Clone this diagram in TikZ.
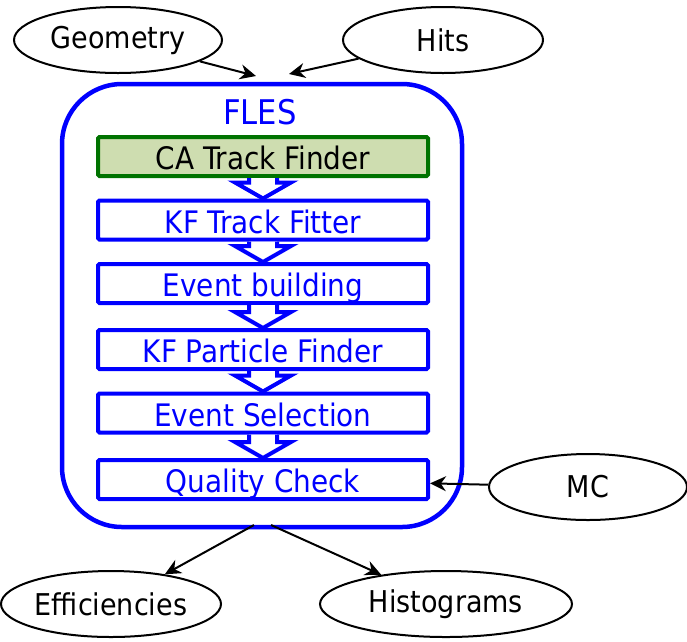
\documentclass[tikz,border=0pt]{standalone}
\usepackage{fontspec}
\setmainfont{DejaVu Sans Condensed}
\usetikzlibrary{shapes.geometric,calc,arrows.meta}
\definecolor{flesblue}{RGB}{0,0,255}
\definecolor{cagreen}{RGB}{0,115,0}
\definecolor{cafill}{RGB}{206,221,176}
\tikzset{
  io/.style={ellipse,draw=black,line width=2pt,minimum width=#1,minimum height=66pt,inner sep=0pt,font=\fontsize{30}{32}\selectfont},
  stage/.style={rectangle,draw=flesblue,line width=4pt,rounded corners=1.5pt,minimum width=330pt,minimum height=39pt,inner sep=0pt,text height=26pt,text depth=0pt,text=flesblue,font=\fontsize{31}{33}\selectfont},
  flow/.style={-{Stealth[length=16pt,width=15pt]},line width=2pt,black},
  hollow/.style={draw=flesblue,line width=4pt,fill=white,line join=miter},
}
\newcommand{\hollowarrow}[2]{%
  \path[hollow] let \p1=(#1.south), \p2=(#2.north) in
    (\x1-14pt,\y1) -- (\x1-14pt,\y2+16pt) -- (\x1-28pt,\y2+16pt) -- (\x1,\y2)
    -- (\x1+28pt,\y2+16pt) -- (\x1+14pt,\y2+16pt) -- (\x1+14pt,\y1);}
\begin{document}
\begin{tikzpicture}[x=1pt,y=-1pt]
\useasboundingbox (0,0) rectangle (687,641);
% outer FLES frame
\node[draw=flesblue,line width=4.5pt,rounded corners=60pt,minimum width=400pt,minimum height=443pt,inner sep=0pt] (fles) at (262,305.5) {};
\node[text=flesblue,font=\fontsize{34}{36}\selectfont] (title) at (260,112) {FLES};
% processing stages
\node[stage,draw=cagreen,fill=cafill,text=black] (ca) at (263,156.5) {CA Track Finder};
\node[stage] (kf) at (263,220) {KF Track Fitter};
\node[stage] (ev) at (263,283.5) {Event building};
\node[stage] (pf) at (263,349.5) {KF Particle Finder};
\node[stage] (sel) at (263,413) {Event Selection};
\node[stage] (qa) at (263,479.5) {Quality Check};
\hollowarrow{ca}{kf}
\hollowarrow{kf}{ev}
\hollowarrow{ev}{pf}
\hollowarrow{pf}{sel}
\hollowarrow{sel}{qa}
% inputs and outputs
\node[io=208pt] (geo) at (118,40) {Geometry};
\node[io=200pt] (hits) at (443,40) {Hits};
\node[io=198pt] (mc) at (588,487) {MC};
\node[io=220pt] (eff) at (111,604) {Efficiencies};
\node[io=252pt] (hist) at (446,604) {Histograms};
\coordinate (inL) at (256,76);
\coordinate (inR) at (289,74);
\coordinate (outL) at (254,525);
\coordinate (outR) at (271,525);
\draw[flow] (geo) -- (inL);
\draw[flow] (hits) -- (inR);
\draw[flow] (mc) -- (qa);
\draw[flow] (outL) -- (eff);
\draw[flow] (outR) -- (hist);
\end{tikzpicture}
\end{document}
